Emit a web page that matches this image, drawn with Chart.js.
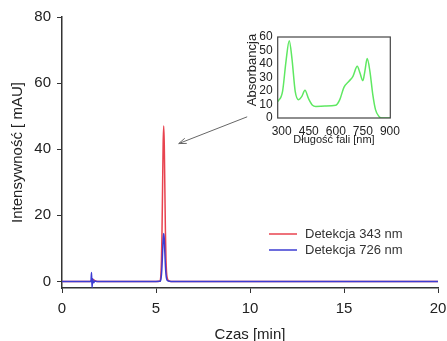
<!DOCTYPE html>
<html>
<head>
<meta charset="utf-8">
<script src="https://cdn.jsdelivr.net/npm/chart.js@4.4.0/dist/chart.umd.min.js"></script>
<style>
  html, body { margin: 0; padding: 0; background: #fff; }
  #wrap  { position: relative; width: 447px; height: 341px; overflow: hidden; }
  #main  { position: absolute; left: 0; top: 0; }
  #inset { position: absolute; left: 236px; top: 24px; }
</style>
</head>
<body>
<div id="wrap">
  <canvas id="main" width="447" height="341"></canvas>
  <canvas id="inset" width="170" height="128"></canvas>
</div>
<script>
// ── Chromatogram: time [min] / signal [mAU] ─────────────
const timeRed    = [0, 1.5, 1.58, 1.65, 1.75, 1.9, 5.0, 5.2, 5.23, 5.26, 5.29, 5.32, 5.35, 5.38, 5.41, 5.44, 5.47, 5.5, 5.53, 5.56, 5.6, 5.66, 5.8, 20];
const signalRed  = [0, 0, 0.3, 0.6, 0.2, 0, 0, 0.05, 0.3, 2.1, 6.4, 15.2, 28.5, 41.5, 47, 41.5, 28.5, 15.5, 7, 2.8, 1, 0.3, 0, 0];

const timeBlue   = [0, 1.54, 1.57, 1.6, 1.63, 1.68, 1.75, 1.85, 5.0, 5.2, 5.23, 5.26, 5.29, 5.32, 5.35, 5.38, 5.41, 5.44, 5.47, 5.5, 5.53, 5.56, 5.6, 5.66, 5.8, 20];
const signalBlue = [0, 0, 2.7, -1.8, 0.8, -0.4, 0.1, 0, 0, 0.02, 0.1, 0.65, 2, 4.7, 8.8, 12.8, 14.5, 12.8, 8.8, 4.8, 2.2, 0.9, 0.3, 0.1, 0, 0];

const seriesLabels = ['Detekcja 343 nm', 'Detekcja 726 nm'];
const timeTicks    = [0, 5, 10, 15, 20];
const signalTicks  = [0, 20, 40, 60, 80];

// ── Spectrum of the peak (inset) ────────────────────────
const wavelength = [278, 305, 324, 342, 357, 375, 394, 412, 429, 449, 471, 489, 540, 600, 622, 645, 673, 695, 719, 734, 750, 761, 774, 789, 805, 820, 839, 855, 902];
const absorbance = [12, 19.8, 42, 57.3, 44, 19.8, 13.6, 16, 20.5, 14.3, 9.4, 8.6, 8.8, 9.4, 13.6, 22.7, 27.2, 30.9, 38.3, 33.3, 27.7, 34.6, 44, 34.6, 17.3, 6.2, 1.2, 0, 0];
const wlTicks    = [300, 450, 600, 750, 900];
const absTicks   = [0, 10, 20, 30, 40, 50, 60];

// arrow from the inset down to the peak, in chromatogram units
const arrowFrom = { x: 9.85, y: 49.8 };
const arrowTo   = { x: 6.21, y: 41.7 };

const RED   = '#e8434f';
const BLUE  = '#3c3cd2';
const GREEN = '#5fe862';
const AXIS  = '#333';
const FAMILY = '"Liberation Sans", Arial, sans-serif';

Chart.defaults.font.family = FAMILY;
Chart.defaults.color = '#222';

const pairs = (xs, ys) => xs.map((x, i) => ({ x, y: ys[i] }));
const fixTicks = list => scale => { scale.ticks = list.map(v => ({ value: v })); };
// keep the plot box where layout.padding puts it, whatever the edge labels need
const fixX = h => s => { s.height = h; s.paddingLeft = 0; s.paddingRight = 0; };
const fixY = w => s => { s.width = w; s.paddingTop = 0; s.paddingBottom = 0; };

// ── Legend + arrow overlay ──────────────────────────────
const overlay = {
  id: 'overlay',
  afterDraw(chart) {
    const { ctx, scales: { x, y } } = chart;
    ctx.save();

    // legend rows
    ctx.font = '13px ' + FAMILY;
    ctx.textBaseline = 'middle';
    ctx.lineWidth = 1.5;
    chart.data.datasets.forEach((ds, i) => {
      const yy = 234 + i * 16;
      ctx.strokeStyle = ds.borderColor;
      ctx.beginPath(); ctx.moveTo(269, yy); ctx.lineTo(297, yy); ctx.stroke();
      ctx.fillStyle = '#333';
      ctx.fillText(ds.label, 305, yy);
    });

    // arrow
    const x0 = x.getPixelForValue(arrowFrom.x), y0 = y.getPixelForValue(arrowFrom.y);
    const x1 = x.getPixelForValue(arrowTo.x),   y1 = y.getPixelForValue(arrowTo.y);
    const a = Math.atan2(y1 - y0, x1 - x0);
    ctx.strokeStyle = '#666';
    ctx.lineWidth = 1;
    ctx.beginPath(); ctx.moveTo(x0, y0); ctx.lineTo(x1, y1); ctx.stroke();
    ctx.beginPath();
    ctx.moveTo(x1 - 8 * Math.cos(a - 0.35), y1 - 8 * Math.sin(a - 0.35));
    ctx.lineTo(x1, y1);
    ctx.lineTo(x1 - 8 * Math.cos(a + 0.35), y1 - 8 * Math.sin(a + 0.35));
    ctx.stroke();
    ctx.restore();
  }
};

// ── Main chromatogram ───────────────────────────────────
new Chart(document.getElementById('main'), {
  type: 'line',
  data: {
    datasets: [
      { label: seriesLabels[0], data: pairs(timeRed, signalRed), borderColor: RED,
        borderWidth: 1.5, pointRadius: 0, cubicInterpolationMode: 'monotone', order: 1 },
      { label: seriesLabels[1], data: pairs(timeBlue, signalBlue), borderColor: BLUE,
        borderWidth: 1.5, pointRadius: 0, cubicInterpolationMode: 'monotone', order: 0 },
    ],
  },
  options: {
    responsive: false,
    animation: false,
    layout: { padding: { top: 17, right: 9, left: 0, bottom: 0 } },
    plugins: { legend: { display: false }, tooltip: { enabled: false } },
    scales: {
      x: {
        type: 'linear', min: 0, max: 20,
        afterBuildTicks: fixTicks(timeTicks),
        afterFit: fixX(53),
        grid: { drawOnChartArea: false, color: AXIS, tickLength: 5 },
        border: { color: AXIS, width: 1.5 },
        ticks: { font: { size: 15 }, padding: 7, maxRotation: 0, autoSkip: false },
        title: { display: true, text: 'Czas [min]', font: { size: 15 }, padding: { top: 0, bottom: -3 } },
      },
      y: {
        min: -2, max: 80,
        afterBuildTicks: fixTicks(signalTicks),
        afterFit: fixY(62),
        grid: { drawOnChartArea: false, color: AXIS, tickLength: 5 },
        border: { color: AXIS, width: 1.5 },
        ticks: { font: { size: 15 }, padding: 6, autoSkip: false },
        title: { display: true, text: 'Intensywność [ mAU]', font: { size: 15 }, padding: { top: 9, bottom: 0 } },
      },
    },
  },
  plugins: [overlay],
});

// ── Inset spectrum ──────────────────────────────────────
const frame = {
  id: 'frame',
  afterDatasetsDraw(chart) {
    const { ctx, chartArea: c } = chart;
    ctx.save();
    ctx.strokeStyle = '#444';
    ctx.lineWidth = 1.2;
    ctx.strokeRect(c.left, c.top, c.right - c.left, c.bottom - c.top);

    // y title sits a little above the middle of the box
    ctx.translate(16.7, 46);
    ctx.rotate(-Math.PI / 2);
    ctx.font = '13px ' + FAMILY;
    ctx.fillStyle = '#222';
    ctx.textAlign = 'center';
    ctx.textBaseline = 'middle';
    ctx.fillText('Absorbancja', 0, 0);
    ctx.restore();
  }
};

new Chart(document.getElementById('inset'), {
  type: 'line',
  data: {
    datasets: [{ data: pairs(wavelength, absorbance), borderColor: GREEN, borderWidth: 1.5,
      pointRadius: 0, cubicInterpolationMode: 'monotone' }],
  },
  options: {
    responsive: false,
    animation: false,
    layout: { padding: { top: 13, right: 15.7, left: 0, bottom: 0 } },
    plugins: { legend: { display: false }, tooltip: { enabled: false } },
    scales: {
      x: {
        type: 'linear', min: 278, max: 902,
        afterBuildTicks: fixTicks(wlTicks),
        afterFit: fixX(34),
        grid: { display: false, drawTicks: false }, border: { display: false },
        ticks: { font: { size: 12 }, padding: 6, maxRotation: 0, autoSkip: false },
        title: { display: true, text: 'Długość fali [nm]', font: { size: 11 }, padding: { top: 0, bottom: 5 } },
      },
      y: {
        min: 0, max: 60,
        afterBuildTicks: fixTicks(absTicks),
        afterFit: fixY(41.7),
        grid: { display: false, drawTicks: false }, border: { display: false },
        ticks: { font: { size: 12 }, padding: 5, autoSkip: false },
      },
    },
  },
  plugins: [frame],
});
</script>
</body>
</html>
